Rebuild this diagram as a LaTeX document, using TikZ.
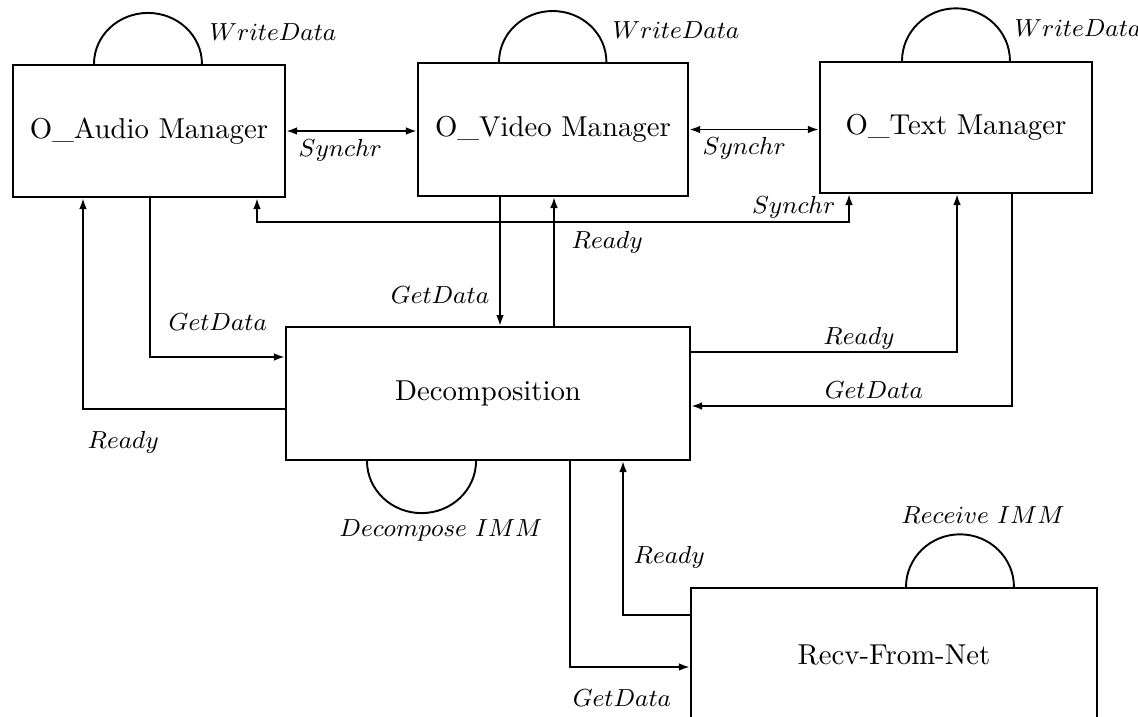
\documentclass[tikz,border=0pt]{standalone}
\usetikzlibrary{arrows.meta}
\begin{document}
\begin{tikzpicture}[x=0.365pt, y=-0.365pt, line width=0.7pt,
    >={Latex[length=4pt,width=2.8pt]},
    module/.style={draw, line width=0.8pt, inner sep=0pt, font=\fontsize{10.5}{12.6}\selectfont},
    msg/.style={inner sep=1pt, font=\fontsize{9.2}{11}\selectfont},
    action/.style={msg, font=\fontsize{8.8}{10.5}\selectfont}]
  % Page frame: the receiving box runs off the bottom edge
  \clip (0,0) rectangle (1138,716);

  % Modules
  \node[module, minimum width=99.3pt, minimum height=48.2pt] (audio) at (149,131) {O\_Audio Manager};
  \node[module, minimum width=98.6pt, minimum height=48.5pt] (video) at (553,129.5) {O\_Video Manager};
  \node[module, minimum width=99.3pt, minimum height=47.8pt] (text) at (956,127.5) {O\_Text Manager};
  \node[module, minimum width=147.5pt, minimum height=48.5pt] (decomp) at (488,393.5) {Decomposition};
  \node[module, minimum width=148.2pt, minimum height=48.9pt] (recv) at (894,655) {Recv-From-Net};

  % Internal actions (half loops on the boxes)
  \draw (audio.north -| 94,0) arc[start angle=180, end angle=0, x radius=19.7pt, y radius=18.6pt];
  \draw (video.north -| 499,0) arc[start angle=180, end angle=0, x radius=19.6pt, y radius=18.6pt];
  \draw (text.north -| 902,0) arc[start angle=180, end angle=0, x radius=19.7pt, y radius=19.2pt];
  \draw (decomp.south -| 367,0) arc[start angle=180, end angle=360, x radius=19.9pt, y radius=19pt];
  \draw (recv.north -| 906,0) arc[start angle=180, end angle=0, x radius=19.7pt, y radius=19.2pt];
  \node[action, anchor=west] (wa) at (206,32) {$WriteData$};
  \node[action, anchor=west] (wv) at (609,30) {$WriteData$};
  \node[action, anchor=west] (wt) at (1011,28) {$WriteData$};
  \node[action] (dimm) at (441,530) {$Decompose\ IMM$};
  \node[action] (rimm) at (983,515) {$Receive\ IMM$};

  % Synchronisation between the managers
  \draw[<->] (audio.east) -- (audio.east -| video.west);
  \draw[<->] (video.east) -- (video.east -| text.west);
  \draw[<->] (audio.south -| 257,0) |- (849,222) -- (text.south -| 849,0);
  \node[msg, anchor=west] (s1) at (295,150) {$Synchr$};
  \node[msg, anchor=west] (s2) at (699,148) {$Synchr$};
  \node[msg, anchor=east] (s3) at (839,207) {$Synchr$};

  % Audio <-> decomposition
  \draw[->] (audio.south -| 150,0) |- (decomp.west |- 0,357);
  \draw[->] (decomp.west |- 0,409) -| (audio.south -| 83,0);
  \node[msg, anchor=west] (ga) at (165,322) {$GetData$};
  \node[msg, anchor=west] (ra) at (84,442) {$Ready$};

  % Video <-> decomposition
  \draw[->] (video.south -| 500,0) -- (decomp.north -| 500,0);
  \draw[->] (decomp.north -| 554,0) -- (video.south -| 554,0);
  \node[msg, anchor=east] (gv) at (493,295) {$GetData$};
  \node[msg, anchor=west] (rv) at (568,242) {$Ready$};

  % Text <-> decomposition
  \draw[->] (decomp.east |- 0,352) -| (text.south -| 957,0);
  \draw[->] (text.south -| 1012,0) |- (decomp.east |- 0,406);
  \node[msg] (rt) at (859,338) {$Ready$};
  \node[msg] (gt) at (874,390) {$GetData$};

  % Decomposition <-> network receiver
  \draw[->] (decomp.south -| 570,0) |- (recv.west |- 0,667);
  \draw[->] (recv.west |- 0,615) -| (decomp.south -| 623,0);
  \node[msg] (gr) at (622,698) {$GetData$};
  \node[msg, anchor=west] (rr) at (630,557) {$Ready$};
\end{tikzpicture}
\end{document}
